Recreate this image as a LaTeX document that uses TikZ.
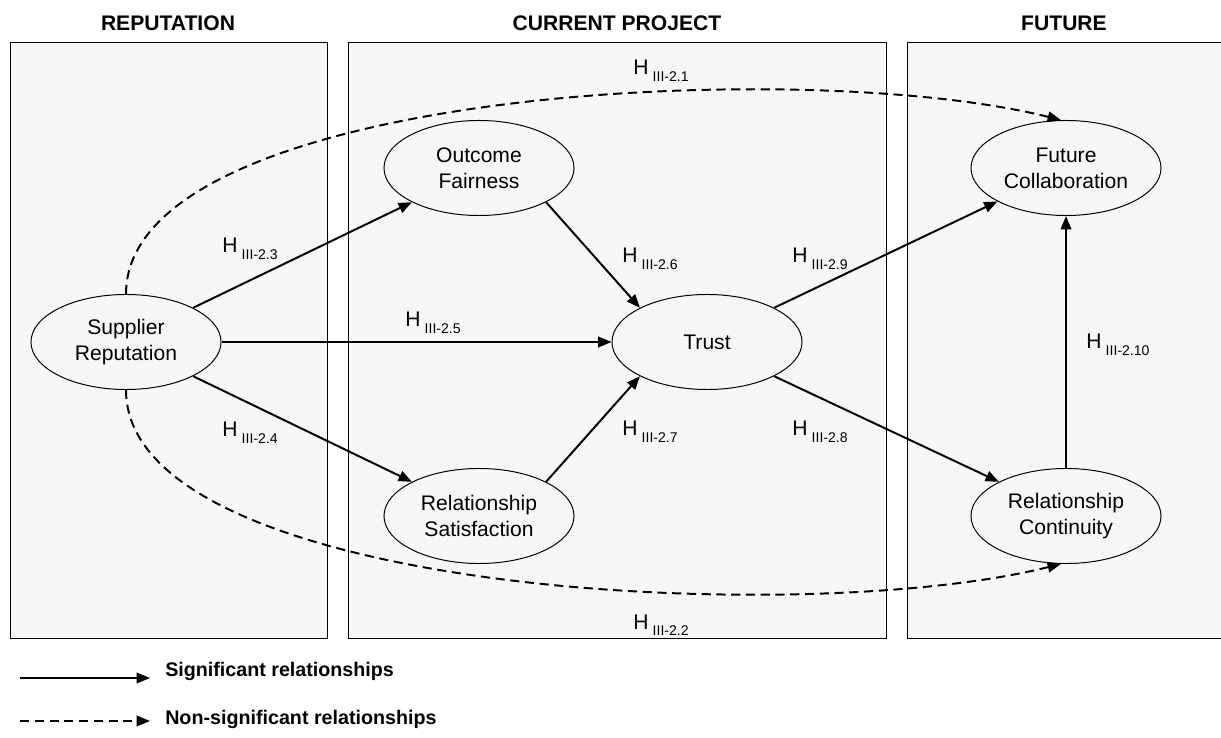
\documentclass[tikz,border=0pt]{standalone}
\usepackage{fontspec}
\setmainfont{Liberation Sans}
\usetikzlibrary{shapes.geometric}
\usetikzlibrary{arrows.meta}
\usetikzlibrary{positioning}

\definecolor{panelgray}{HTML}{F7F7F7}

\newcommand{\hyp}[1]{H\hspace{3pt}\raisebox{-4.3pt}{\fontsize{10}{12}\selectfont III-#1}}

\begin{document}
\begin{tikzpicture}[x=0.025cm, y=0.025cm,
		every text node part/.style={align=center},
		panel/.style={draw=black, line width=0.7pt, fill=panelgray},
		title/.style={inner sep=0pt, font=\fontsize{15}{18}\selectfont\bfseries},
		construct/.style={ellipse, draw=black, line width=0.7pt, inner sep=0pt, minimum width=4.75cm, minimum height=2.375cm, font=\fontsize{15}{18.5}\selectfont},
		hlabel/.style={anchor=base west, inner sep=0pt, font=\fontsize{15}{18}\selectfont},
		arrow/.style={-{Triangle[length=9.5pt, width=7.5pt]}, line width=1.4pt},
		nsarrow/.style={arrow, dash pattern=on 6.5pt off 4pt},
		legend/.style={anchor=base west, inner sep=0pt, font=\fontsize{14}{17}\selectfont\bfseries}]
		
		\useasboundingbox (0,0) rectangle (1221,737);
		
		% panels
		\draw[panel] (10,99) rectangle (327,695);
		\draw[panel] (348,99) rectangle (886,695);
		\draw[panel] (907,99) rectangle (1235,695);
		
		\node[title] (reptitle) at (168,714) {REPUTATION};
		\node[title] (curtitle) at (617,714) {CURRENT PROJECT};
		\node[title] (futtitle) at (1064,714) {FUTURE};
		
		% constructs
		\node[construct] (SR) at (126,395) {Supplier\\Reputation};
		\node[construct] (OF) at (479,569) {Outcome\\Fairness};
		\node[construct] (TR) at (707,395) {Trust};
		\node[construct] (RS) at (479,221) {Relationship\\Satisfaction};
		\node[construct] (FC) at (1066,569) {Future\\Collaboration};
		\node[construct] (RC) at (1066,221) {Relationship\\Continuity};
		
		% significant paths
		\draw (SR.27) edge[arrow] (OF.207);
		\draw (SR) edge[arrow] (TR);
		\draw (SR.-27) edge[arrow] (RS.153);
		\draw (OF.-27) edge[arrow] (TR.153);
		\draw (RS.27) edge[arrow] (TR.207);
		\draw (TR.27) edge[arrow] (FC.206);
		\draw (TR.-27) edge[arrow] (RC.153);
		\draw (RC) edge[arrow] (FC);
		
		% non-significant paths
		\draw[nsarrow] (SR.north) .. controls (126,647) and (800,682) .. (FC.96);
		\draw[nsarrow] (SR.south) .. controls (126,143) and (800,108) .. (RC.-96);
		
		% hypotheses
		\node[hlabel] (h21) at (633,662) {\hyp{2.1}};
		\node[hlabel] (h22) at (633,108) {\hyp{2.2}};
		\node[hlabel] (h23) at (222,484) {\hyp{2.3}};
		\node[hlabel] (h24) at (222,300) {\hyp{2.4}};
		\node[hlabel] (h25) at (405,410) {\hyp{2.5}};
		\node[hlabel] (h26) at (622,474) {\hyp{2.6}};
		\node[hlabel] (h27) at (622,301) {\hyp{2.7}};
		\node[hlabel] (h29) at (792,474) {\hyp{2.9}};
		\node[hlabel] (h28) at (792,301) {\hyp{2.8}};
		\node[hlabel] (h210) at (1086,388) {\hyp{2.10}};
		
		% legend
		\coordinate (sigstart) at (20,59);
		\coordinate (sigend) at (150,59);
		\coordinate (nsstart) at (20,16);
		\coordinate (nsend) at (150,16);
		\draw (sigstart) edge[arrow] (sigend);
		\draw (nsstart) edge[nsarrow] (nsend);
		\node[legend] (sigtext) at (165,61) {Significant relationships};
		\node[legend] (nstext) at (165,13) {Non-significant relationships};
		
	\end{tikzpicture}
\end{document}
